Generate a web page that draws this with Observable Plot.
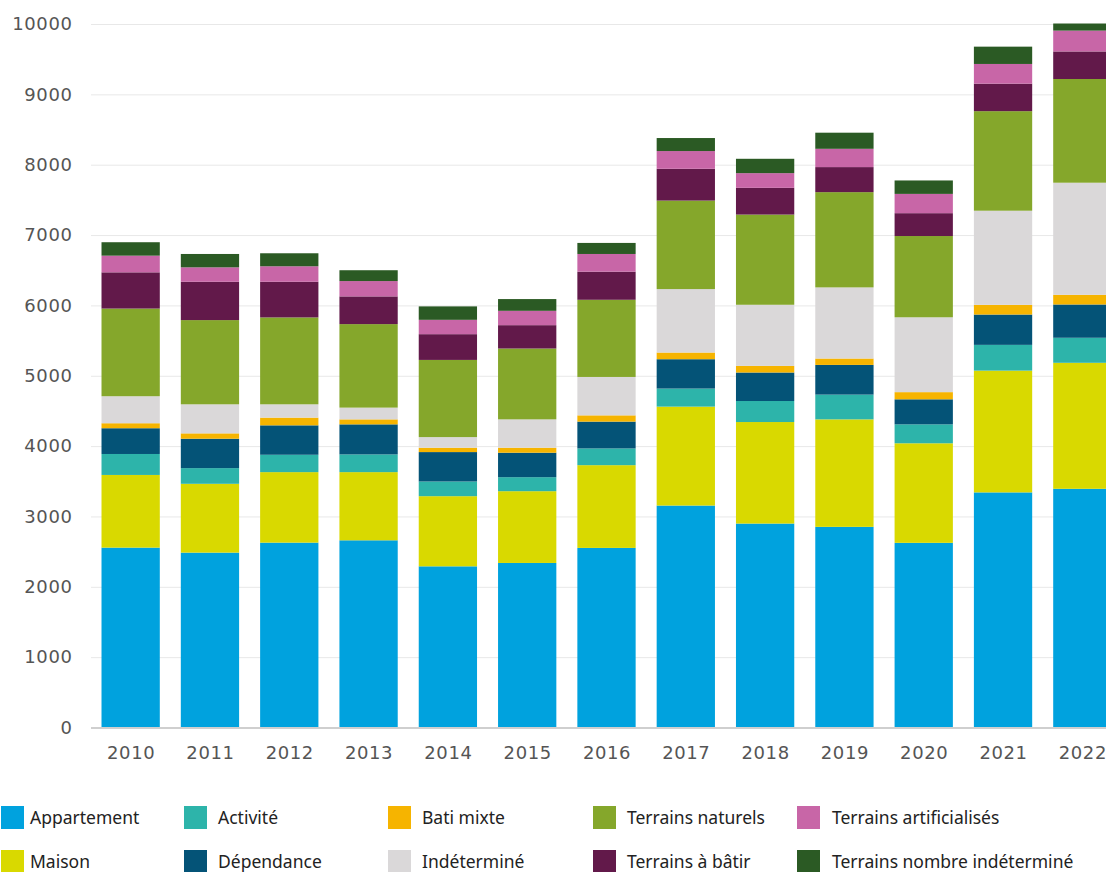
<!DOCTYPE html>
<html>
<head>
<meta charset="utf-8">
<script src="https://cdn.jsdelivr.net/npm/d3@7"></script>
<script src="https://cdn.jsdelivr.net/npm/@observablehq/plot@0.6"></script>
<style>
  html, body { margin: 0; padding: 0; background: #fff; overflow: hidden; }
  #wrap { width: 1106px; height: 872px; overflow: hidden; position: relative; }
  #chart { position: absolute; left: 0; top: 0; width: 1122px; }
  #chart svg { max-width: none !important; }
  #legend { position: absolute; left: 0; top: 0; width: 1106px; height: 872px;
    font-family: "Noto Sans", sans-serif; font-size: 17.5px; color: #222; pointer-events: none; }
  .sw { position: absolute; width: 23px; height: 23px; }
  .tx { position: absolute; line-height: 24px; white-space: nowrap; }
</style>
</head>
<body>
<div id="wrap">
  <div id="chart"></div>
  <div id="legend"></div>
</div>
<script>
const years = ["2010","2011","2012","2013","2014","2015","2016","2017","2018","2019","2020","2021","2022"];
const categories = ["Appartement","Maison","Activité","Dépendance","Bati mixte","Indéterminé",
  "Terrains naturels","Terrains à bâtir","Terrains artificialisés","Terrains nombre indéterminé"];
const colors = ["#00a2de","#d9d900","#2db4aa","#045377","#f6b400","#dad8d9",
  "#85a72b","#62194a","#c866a7","#2b5a24"];

const appartement   = [2557,2486,2628,2661,2291,2339,2553,3155,2899,2852,2625,3342,3393];
const maison        = [1033, 978,1002, 969, 997,1020,1176,1406,1443,1528,1415,1731,1791];
const activite      = [ 298, 223, 247, 252, 209, 199, 238, 257, 299, 352, 269, 366, 356];
const dependance    = [ 366, 418, 418, 427, 418, 348, 381, 417, 405, 422, 356, 431, 473];
const batiMixte     = [  71,  76, 110,  71,  62,  71,  89,  95,  94,  91, 102, 138, 138];
const indetermine   = [ 384, 413, 189, 167, 151, 403, 546, 902, 869,1011,1064,1338,1593];
const terrNaturels  = [1246,1197,1235,1187,1097,1007,1097,1258,1282,1354,1155,1415,1474];
const terrABatir    = [ 515, 545, 507, 394, 366, 332, 399, 452, 380, 356, 325, 391, 392];
const terrArtif     = [ 237, 205, 220, 218, 204, 204, 252, 252, 209, 260, 274, 280, 296];
const terrNombreInd = [ 191, 190, 185, 154, 191, 167, 157, 185, 204, 229, 191, 246, 101];
const yTicks = [0,1000,2000,3000,4000,5000,6000,7000,8000,9000,10000];

const series = [appartement, maison, activite, dependance, batiMixte, indetermine,
  terrNaturels, terrABatir, terrArtif, terrNombreInd];

const data = [];
years.forEach((yr, i) => {
  categories.forEach((c, k) => data.push({year: yr, cat: c, value: series[k][i]}));
});

const chart = Plot.plot({
  width: 1122,
  height: 778,
  marginLeft: 91,
  marginRight: 0,
  marginTop: 24,
  marginBottom: 50.5,
  style: {fontFamily: "DejaVu Sans, sans-serif", fontSize: "18px", background: "transparent", maxWidth: "none"},
  x: {domain: years, paddingInner: 0.265, paddingOuter: 0.1325, round: false, label: null},
  y: {domain: [0, 10000], label: null},
  color: {domain: categories, range: colors},
  marks: [
    Plot.gridY(yTicks, {stroke: "#e8e8e8", strokeOpacity: 1, strokeWidth: 1}),
    Plot.barY(data, {x: "year", y: "value", fill: "cat"}),
    Plot.ruleY([0], {stroke: "#cfcfcf", strokeWidth: 2}),
    Plot.axisY(yTicks, {tickSize: 0, tickPadding: 19, fill: "#555", fontSize: 18, label: null,
      tickFormat: d => String(d)}),
    Plot.axisX({tickSize: 0, tickPadding: 18, fill: "#555", fontSize: 18, label: null})
  ]
});
chart.style.maxWidth = "none";
chart.querySelectorAll("text").forEach(t => t.style.letterSpacing = "0.6px");
document.getElementById("chart").appendChild(chart);

// legend layout: two rows, five columns
const swLeft = [1, 184, 388, 593, 797];
const txLeft = [30, 218, 422, 627, 832];
const rowMid = [817, 861];
const legend = document.getElementById("legend");
categories.forEach((c, k) => {
  const col = Math.floor(k / 2), row = k % 2;
  const sw = document.createElement("div");
  sw.className = "sw";
  sw.style.background = colors[k];
  sw.style.left = swLeft[col] + "px";
  sw.style.top = (rowMid[row] - 11.5) + "px";
  const tx = document.createElement("div");
  tx.className = "tx";
  tx.textContent = c;
  tx.style.left = txLeft[col] + "px";
  tx.style.top = (rowMid[row] - 12) + "px";
  legend.appendChild(sw); legend.appendChild(tx);
});
</script>
</body>
</html>
